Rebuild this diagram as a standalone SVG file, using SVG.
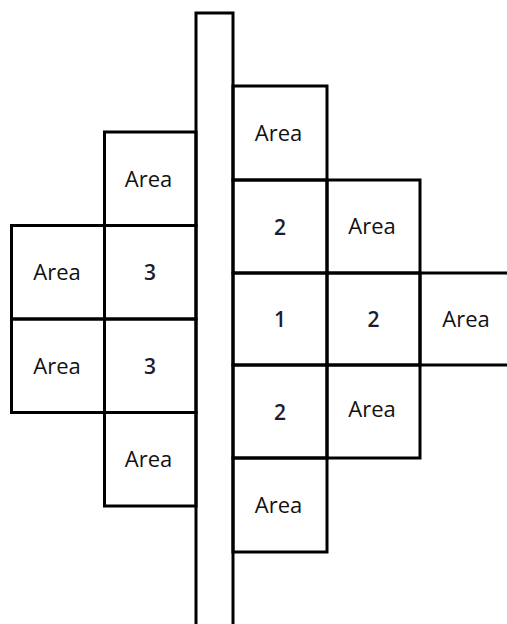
<svg xmlns="http://www.w3.org/2000/svg" width="507" height="624" viewBox="0 0 507 624">
<style>
.c{fill:none;stroke:#000;stroke-width:3;stroke-linejoin:miter}
.t{font-family:"Open Sans","Noto Sans","Liberation Sans",sans-serif;font-size:22px;fill:#111;text-anchor:middle}
.d{font-family:"Open Sans","Noto Sans","Liberation Sans",sans-serif;font-size:21px;font-weight:600;fill:#1c1c30;text-anchor:middle}
</style>
<rect width="507" height="624" fill="#fff"/>
<g id="bar"><rect class="c" x="196" y="13" width="37" height="616"/></g>
<g id="L1"><rect class="c" x="104.5" y="132" width="91.5" height="93.5"/><text class="t" x="148.5" y="186.5">Area</text></g>
<g id="L2"><rect class="c" x="11.5" y="225.5" width="93" height="93.5"/><text class="t" x="57" y="280">Area</text></g>
<g id="L3"><rect class="c" x="104.5" y="225.5" width="91.5" height="93.5"/><text class="d" x="150" y="280">3</text></g>
<g id="L4"><rect class="c" x="11.5" y="319" width="93" height="93.5"/><text class="t" x="57" y="373.5">Area</text></g>
<g id="L5"><rect class="c" x="104.5" y="319" width="91.5" height="93.5"/><text class="d" x="150" y="374">3</text></g>
<g id="L6"><rect class="c" x="104.5" y="412.5" width="91.5" height="93.5"/><text class="t" x="148.5" y="467">Area</text></g>
<g id="R1"><rect class="c" x="233" y="86" width="94" height="94"/><text class="t" x="278.5" y="140.5">Area</text></g>
<g id="R2"><rect class="c" x="233" y="180" width="94" height="93"/><text class="d" x="280" y="234.5">2</text></g>
<g id="R3"><rect class="c" x="327" y="180" width="93" height="93"/><text class="t" x="372" y="234">Area</text></g>
<g id="R4"><rect class="c" x="233" y="273" width="94" height="92"/><text class="d" x="280" y="327">1</text></g>
<g id="R5"><rect class="c" x="327" y="273" width="93" height="92"/><text class="d" x="373.5" y="327">2</text></g>
<g id="R6"><path class="c" d="M509 273H420V365H509"/><text class="t" x="466" y="326.5">Area</text></g>
<g id="R7"><rect class="c" x="233" y="365" width="94" height="93"/><text class="d" x="280" y="419.5">2</text></g>
<g id="R8"><rect class="c" x="327" y="365" width="93" height="93"/><text class="t" x="372" y="416.5">Area</text></g>
<g id="R9"><rect class="c" x="233" y="458" width="94" height="94"/><text class="t" x="278.5" y="512.5">Area</text></g>
</svg>
